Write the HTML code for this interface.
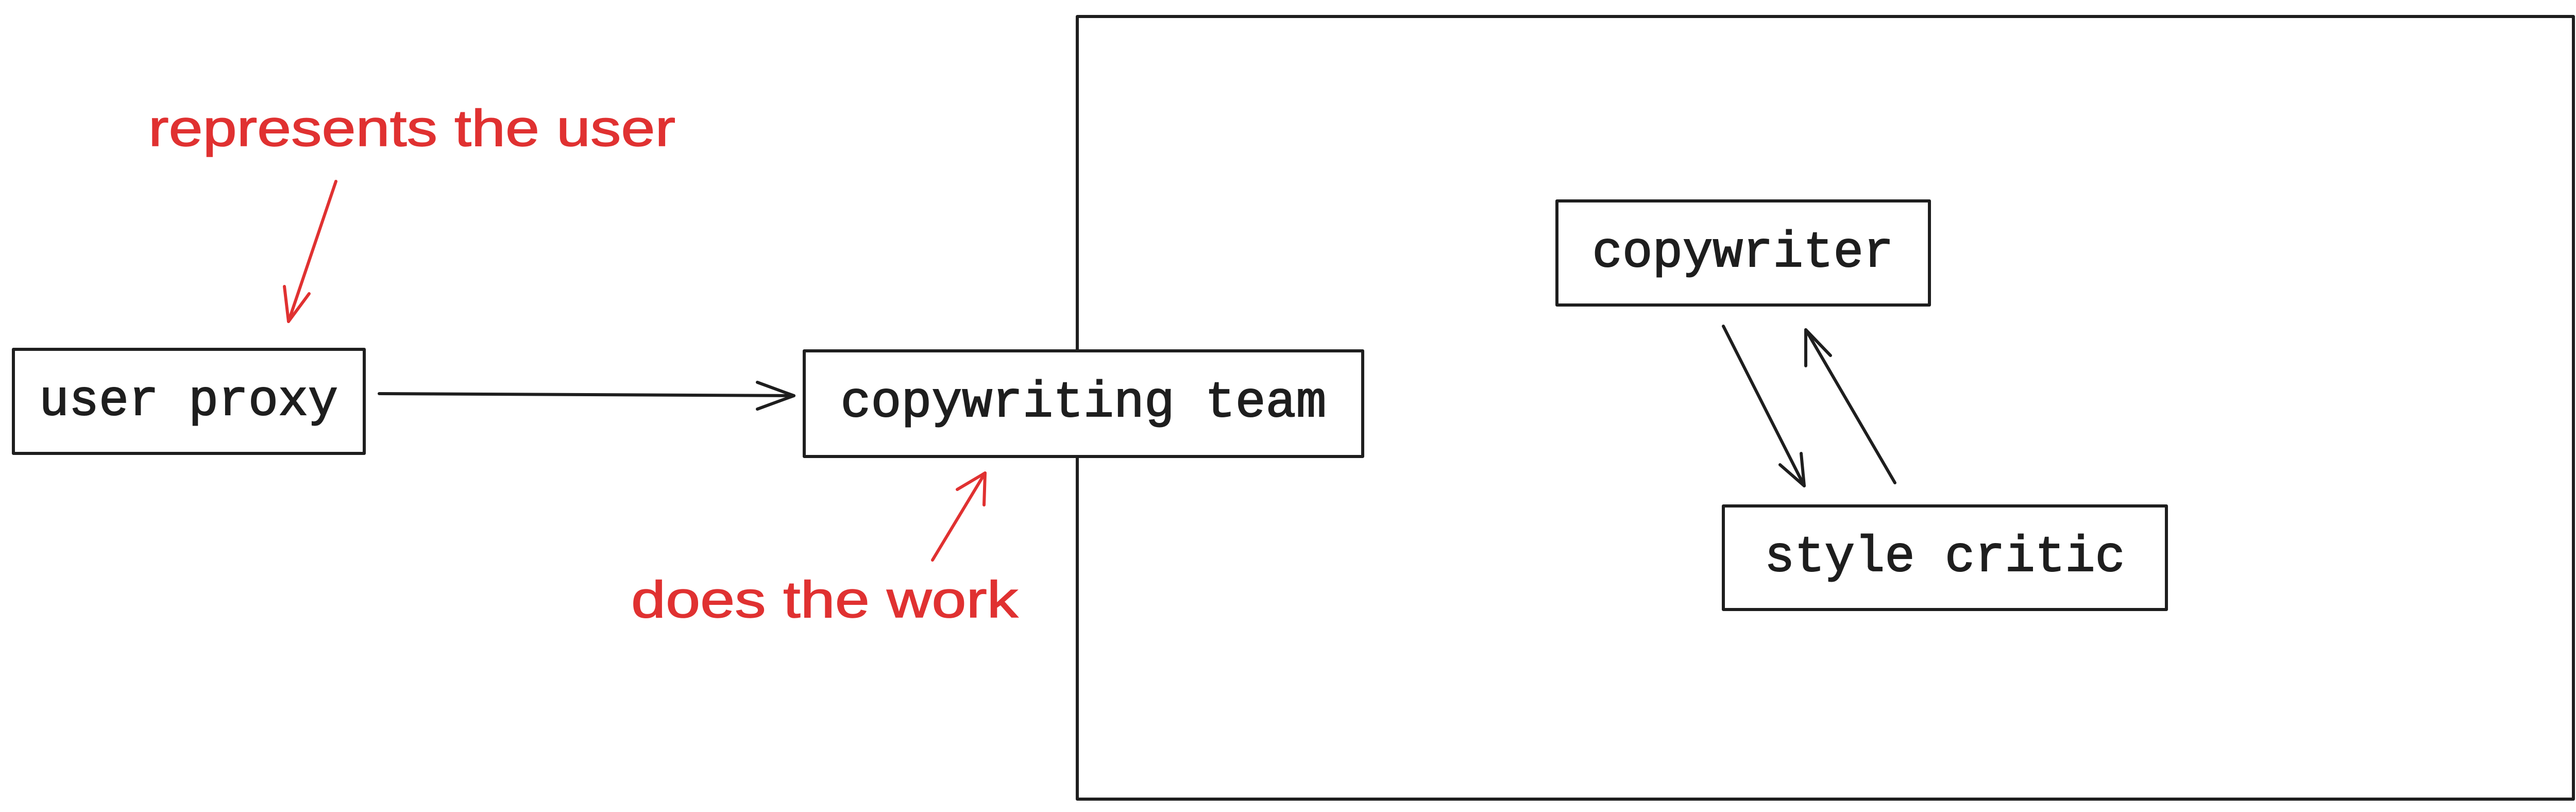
<!DOCTYPE html>
<html><head><meta charset="utf-8"><style>
html,body{margin:0;padding:0;background:#fff;}
svg{display:block;}
.m{font-family:"Liberation Mono",monospace;font-size:98px;fill:#1e1e1e;stroke:#1e1e1e;stroke-width:2;}
.r{font-family:"Liberation Sans",sans-serif;font-size:100px;fill:#e03131;stroke:#e03131;stroke-width:1.5;}
</style></head><body>
<svg width="5014" height="1576" viewBox="0 0 5014 1576" xmlns="http://www.w3.org/2000/svg">
<g fill="none" stroke="#1e1e1e" stroke-width="6" stroke-linecap="round" stroke-linejoin="round">
<rect x="2091" y="32" width="2904" height="1519" fill="#fff"/>
<rect x="26" y="678" width="681" height="202" fill="#fff"/>
<rect x="1561" y="681" width="1084" height="205" fill="#fff"/>
<rect x="3022" y="390" width="723" height="202" fill="#fff"/>
<rect x="3345" y="982" width="860" height="201" fill="#fff"/>
<path d="M736 764 L1541 768"/>
<path d="M1470 742 L1541 768 L1470 794"/>
<path d="M3345 633 L3502 943"/>
<path d="M3455 902 L3502 943 L3496 880"/>
<path d="M3678 937 L3505 640"/>
<path d="M3505 710 L3505 640 L3553 690"/>
</g>
<g fill="none" stroke="#e03131" stroke-width="6" stroke-linecap="round" stroke-linejoin="round">
<path d="M652 352 L560 624"/>
<path d="M552 556 L560 624 L600 570"/>
<path d="M1810 1087 L1912 918"/>
<path d="M1858 950 L1912 918 L1910 980"/>
</g>
<text class="m" x="366" y="805" text-anchor="middle" textLength="580" lengthAdjust="spacingAndGlyphs">user proxy</text>
<text class="m" x="2103" y="808" text-anchor="middle" textLength="943" lengthAdjust="spacingAndGlyphs">copywriting team</text>
<text class="m" x="3383" y="517" text-anchor="middle" textLength="585" lengthAdjust="spacingAndGlyphs">copywriter</text>
<text class="m" x="3775" y="1108" text-anchor="middle" textLength="700" lengthAdjust="spacingAndGlyphs">style critic</text>
<text class="r" x="288" y="283" textLength="1023" lengthAdjust="spacingAndGlyphs">represents the user</text>
<text class="r" x="1225" y="1198" textLength="751" lengthAdjust="spacingAndGlyphs">does the work</text>
</svg>
</body></html>
